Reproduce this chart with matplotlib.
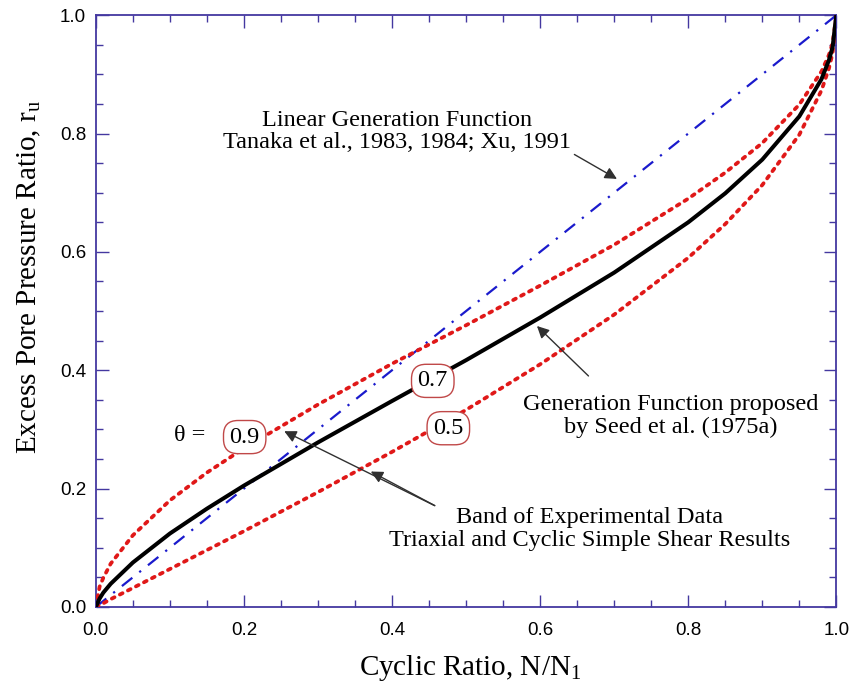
#!/usr/bin/env python

### pore pressure generation curves: Seed et al. (1975a) band and the linear function

import matplotlib
matplotlib.use("Agg")
import matplotlib.pyplot as plt
from matplotlib.ticker import MultipleLocator

plt.rcParams["mathtext.fontset"] = "custom"
plt.rcParams["mathtext.rm"] = "Liberation Serif"

#######################################################################################################################
## values
cyclic_ratio = [0.0, 0.005, 0.01, 0.02, 0.05, 0.1, 0.15, 0.2, 0.3, 0.4, 0.5,
                0.6, 0.7, 0.8, 0.85, 0.9, 0.95, 0.98, 0.99, 0.995, 1.0]
ru_theta_09 = [0.0, 0.034, 0.049, 0.073, 0.121, 0.180, 0.227, 0.268, 0.342, 0.411, 0.476,
               0.543, 0.612, 0.690, 0.734, 0.784, 0.849, 0.905, 0.933, 0.953, 1.0]
ru_theta_07 = [0.0, 0.014, 0.024, 0.039, 0.075, 0.124, 0.166, 0.205, 0.278, 0.348, 0.417,
               0.489, 0.565, 0.650, 0.699, 0.756, 0.829, 0.892, 0.924, 0.946, 1.0]
ru_theta_05 = [0.0, 0.003, 0.006, 0.013, 0.032, 0.064, 0.096, 0.128, 0.194, 0.262, 0.333,
               0.410, 0.494, 0.590, 0.647, 0.713, 0.798, 0.873, 0.910, 0.936, 1.0]
linear_x = [0.0, 1.0]
linear_ru = [0.0, 1.0]

theta_labels = ["0.9", "0.7", "0.5"]
ticks = [0.0, 0.2, 0.4, 0.6, 0.8, 1.0]
#######################################################################################################################

fig = plt.figure(figsize=(8.56, 6.92), dpi=100)
ax = fig.add_axes([0.112, 0.123, 0.865, 0.855])

frame = "#4438a0"
red = "#e01818"

ax.plot(linear_x, linear_ru, color="#1a1acc", lw=1.6, dashes=[6, 4, 1, 4], zorder=2)
ax.plot(cyclic_ratio, ru_theta_09, color=red, lw=2.7, linestyle=(0, (0.8, 1.6)),
        dash_capstyle="round", zorder=3)
ax.plot(cyclic_ratio, ru_theta_05, color=red, lw=2.7, linestyle=(0, (0.8, 1.6)),
        dash_capstyle="round", zorder=3)
ax.plot(cyclic_ratio, ru_theta_07, color="black", lw=2.9, zorder=3)

ax.set_xlim(0, 1)
ax.set_ylim(0, 1)
ax.set_xticks(ticks)
ax.set_yticks(ticks)
ax.xaxis.set_minor_locator(MultipleLocator(0.05))
ax.yaxis.set_minor_locator(MultipleLocator(0.05))
ax.tick_params(which="both", direction="in", top=True, right=True, color=frame, width=1.0)
ax.tick_params(which="major", length=9, labelsize=13.5)
ax.tick_params(axis="x", which="major", pad=11)
ax.tick_params(axis="y", which="major", pad=7)
ax.tick_params(which="minor", length=5)
for lab in ax.get_xticklabels() + ax.get_yticklabels():
    lab.set_family("Liberation Sans")
for s in ax.spines.values():
    s.set_color(frame)
    s.set_linewidth(1.3)

ax.set_xlabel("Cyclic Ratio, N/N$_\\mathregular{1}$", family="Liberation Serif", fontsize=21)
ax.set_ylabel("Excess Pore Pressure Ratio, r$_\\mathregular{u}$", family="Liberation Serif", fontsize=21)
ax.xaxis.set_label_coords(0.505, -0.078)
ax.yaxis.set_label_coords(-0.072, 0.557)

## theta labels in rounded boxes
box = dict(boxstyle="round,pad=0.25,rounding_size=0.6", fc="white", ec="#c04848", lw=1.0)
serif = dict(family="Liberation Serif", fontsize=17.5)
ax.text(0.127, 0.29, "\u03b8 =", ha="center", va="center", **serif)
ax.text(0.201, 0.287, theta_labels[0], ha="center", va="center", bbox=box, zorder=5, **serif)
ax.text(0.455, 0.382, theta_labels[1], ha="center", va="center", bbox=box, zorder=5, **serif)
ax.text(0.476, 0.302, theta_labels[2], ha="center", va="center", bbox=box, zorder=5, **serif)

## annotations
arrow = dict(arrowstyle="-|>", color="#303030", lw=1.0, mutation_scale=18)
ax.text(0.407, 0.804, "Linear Generation Function\nTanaka et al., 1983, 1984; Xu, 1991",
        ha="center", va="center", linespacing=1.05, **serif)
ax.annotate("", xy=(0.707, 0.721), xytext=(0.643, 0.767), arrowprops=arrow)

ax.text(0.776, 0.323, "Generation Function proposed\nby Seed et al. (1975a)",
        ha="center", va="center", linespacing=1.1, **serif)
ax.annotate("", xy=(0.593, 0.478), xytext=(0.668, 0.387), arrowprops=arrow)

ax.text(0.667, 0.132, "Band of Experimental Data\nTriaxial and Cyclic Simple Shear Results",
        ha="center", va="center", linespacing=1.1, **serif)
ax.annotate("", xy=(0.251, 0.299), xytext=(0.461, 0.169), arrowprops=arrow)
ax.annotate("", xy=(0.368, 0.231), xytext=(0.461, 0.169), arrowprops=arrow)

plt.savefig("out.png", dpi=100)
